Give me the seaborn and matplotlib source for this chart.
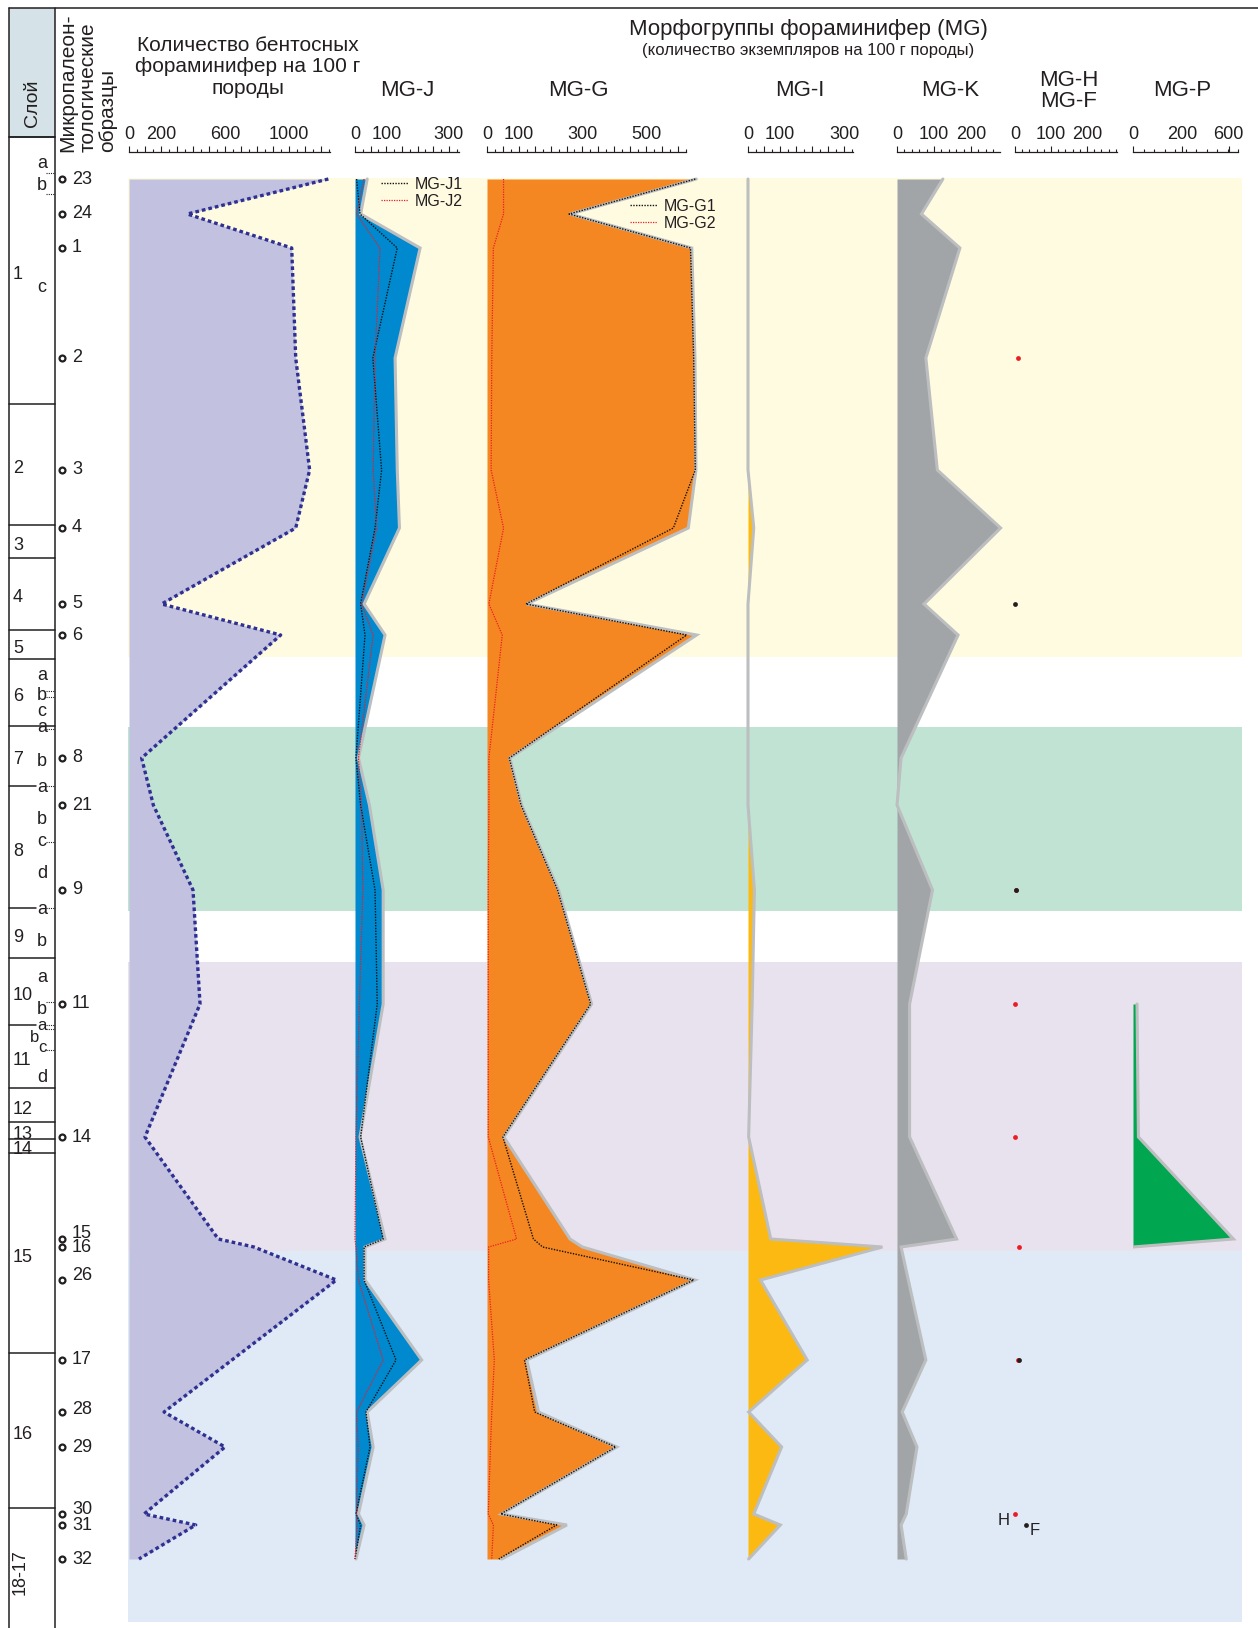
import numpy as np
import matplotlib
matplotlib.use("Agg")
import matplotlib.pyplot as plt
import seaborn as sns
from matplotlib.ticker import MultipleLocator, FixedLocator, FuncFormatter

nan = np.nan

# ---------------- data ----------------
samples = ['23', '24', '1', '2', '3', '4', '5', '6', '8', '21', '9', '11',
           '14', '15', '16', '26', '17', '28', '29', '30', '31', '32']
depth = [179, 214, 248, 358, 470, 528, 604, 635, 758, 805, 890, 1004,
         1137, 1239, 1247, 1280, 1360, 1412, 1447, 1514, 1525, 1559]

total = [1246, 365, 1017, 1042, 1129, 1042, 204, 948, 79, 152, 400, 444,
         100, 558, 781, 1296, nan, 219, 600, 94, 417, 62]

mg_j = [39, 18, 208, 128, 135, 142, 29, 96, 11, 46, 90, 90,
        16, 96, 32, 32, 213, 39, 58, 11, 29, 3]
mg_j1 = [5, 16, 135, 57, 85, 64, 18, 32, 3, 18, 64, 71,
         18, 90, 29, 29, 131, 35, 48, 3, 18, 0]
mg_j2 = [29, 5, 80, 64, 58, 69, 21, 58, 11, 21, 25, 14,
         3, 0, 3, 11, 90, 5, 10, 5, 7, 0]

mg_g = [658, 261, 644, 654, 657, 633, 125, 659, 72, 109, 225, 329,
        53, 261, 300, 654, 125, 162, 408, 46, 251, 46]
mg_g1 = [655, 258, 640, 650, 655, 586, 122, 628, 70, 107, 222, 326,
         50, 146, 175, 650, 118, 150, 405, 43, 219, 37]
mg_g2 = [52, 52, 20, 15, 13, 52, 6, 48, 6, 6, 4, 4,
         4, 93, 5, 5, 23, 15, 11, 4, 20, 15]

mg_i = [0, 0, 0, 0, 0, 18, 0, 0, 0, 0, 20, 13,
        2, 71, 420, 39, 185, 2, 105, 18, 101, 2]

mg_k = [124, 66, 170, 78, 109, 280, 73, 165, 11, 0, 96, 34,
        34, 161, 11, nan, 78, 14, 54, 25, 11, 25]

mg_h = [nan, nan, nan, 8, nan, nan, nan, nan, nan, nan, 2, 1,
        1, nan, 12, nan, 7, nan, nan, 0, nan, nan]
mg_f = [nan, nan, nan, nan, nan, nan, 1, nan, nan, nan, 4, nan,
        nan, nan, nan, nan, 11, nan, nan, nan, 30, nan]

mg_p = [nan, nan, nan, nan, nan, nan, nan, nan, nan, nan, nan, 3,
        5, 650, 0, nan, nan, nan, nan, nan, nan, nan]

layers = ['1', '2', '3', '4', '5', '6', '7', '8', '9', '10', '11', '12',
          '13', '14', '15', '16', '18-17']
layer_top = [137, 404, 525, 558, 630, 659, 726, 786, 908, 958, 1025, 1088,
             1122, 1139, 1153, 1353, 1508]
sub_letters = [('a', 163), ('b', 185), ('c', 288),
               ('a', 675), ('b', 695), ('c', 712),
               ('a', 728), ('b', 762),
               ('a', 788), ('b', 820), ('c', 842), ('d', 873),
               ('a', 910), ('b', 942),
               ('a', 978), ('b', 1009),
               ('a', 1026), ('b', 1037), ('c', 1048), ('d', 1078)]
sub_dotted = [173, 194, 691, 697, 729, 786, 842, 908, 1002, 1025, 1029, 1050]
partial_bounds = [786, 908, 1025]

band_top = [178, 727, 962, 1251]
band_bot = [657, 911, 1251, 1622]
band_col = ['#fffbe1', '#c1e3d4', '#e8e2ee', '#dfeaf6']

# ---------------- style ----------------
sns.set_theme(style="white")
plt.rcParams['font.family'] = ['Liberation Sans', 'DejaVu Sans']
INK = '#231f20'
OUT = '#bcbec0'
RED = '#ed1c24'
plt.rcParams['text.color'] = INK

W, H = 1258, 1628
fig = plt.figure(figsize=(W / 100, H / 100), dpi=100)


def px_axes(x0, x1, y0=0, y1=H):
    return fig.add_axes([x0 / W, 1 - y1 / H, (x1 - x0) / W, (y1 - y0) / H])


page = px_axes(0, W)
page.set_xlim(0, W)
page.set_ylim(H, 0)
page.axis('off')

# background bands
for t, b, c in zip(band_top, band_bot, band_col):
    page.fill_between([128, 1242], t, b, color=c, lw=0, zorder=0)

# frame
lk = dict(color=INK, lw=1.1, zorder=5)
page.plot([9, W], [8, 8], **lk)
page.plot([9, 9], [8, H], **lk)
page.plot([55, 55], [8, H], **lk)
page.fill_between([9, 55], 8, 137, color='#d5e2e8', lw=0, zorder=1)
page.plot([9, 55], [137, 137], **lk)
page.text(32, 103, "Слой", rotation=90, ha='center', va='center', fontsize=14)

# strata column
for name, top, bot in zip(layers, layer_top, layer_top[1:] + [H]):
    if top in partial_bounds:
        page.plot([9, 36], [top, top], **lk)
    else:
        page.plot([9, 55], [top, top], **lk)
    mid = (top + bot) / 2 + 4
    if name == '18-17':
        page.text(20, mid, name, rotation=90, ha='center', va='center', fontsize=13)
    else:
        page.text(13, mid, name, ha='left', va='center', fontsize=13)
for letter, y in sub_letters:
    x = 35 if (letter == 'b' and y == 1037) else 42
    fs = 12 if 1020 < y < 1060 else 13
    page.text(x, y, letter, ha='center', va='center', fontsize=fs)
for y in sub_dotted:
    page.plot([46, 55], [y, y], color=INK, lw=0.8, ls=(0, (1, 1)), zorder=5)

# sample column
page.scatter([62] * len(depth), depth, s=18, facecolors='white',
             edgecolors=INK, linewidths=1.6, zorder=6)
nudge = {'15': -6, '26': -5, '30': -4, '28': -3}
for s, d in zip(samples, depth):
    page.text(72, d + nudge.get(s, 0), s, ha='left', va='center', fontsize=13)

page.text(58, 152, "Микропалеон-\nтологические\nобразцы", rotation=90,
          rotation_mode='anchor', ha='left', va='top', multialignment='left',
          fontsize=15, linespacing=1.08)

# headers
page.text(248, 67, "Количество бентосных\nфораминифер на 100 г\nпороды",
          ha='center', va='center', fontsize=15, linespacing=1.15)
page.text(808, 30, "Морфогруппы фораминифер (MG)", ha='center', va='center', fontsize=16)
page.text(808, 51, "(количество экземпляров на 100 г породы)", ha='center',
          va='center', fontsize=12)
for txt, x in [("MG-J", 407), ("MG-G", 578), ("MG-I", 800), ("MG-K", 950),
               ("MG-H\nMG-F", 1069), ("MG-P", 1182)]:
    page.text(x, 91, txt, ha='center', va='center', fontsize=16, linespacing=1.05)

P_EXP = 0.6


def fwd(v):
    return np.power(np.clip(v, 0, None), P_EXP)


def inv(v):
    return np.power(np.clip(v, 0, None), 1 / P_EXP)


def data_axes(L, R, zero, s, powscale=False):
    ax = px_axes(L, R)
    ax.axis('off')
    if powscale:
        ax.set_xscale('function', functions=(fwd, inv))
        lim = (0, ((R - L) / s) ** (1 / P_EXP))
    else:
        lim = ((L - zero) / s, (R - zero) / s)
    return ax, lim


def finish(ax, lim):
    ax.set_xlim(*lim)
    ax.set_ylim(H, 0)
    ax.axis('off')


def scale_axes(L, R, s, major, minor, labels, powscale=False, nminor=11):
    ax = px_axes(L, R, 152, 154)
    if powscale:
        ax.set_xscale('function', functions=(fwd, inv))
        vmax = ((R - L) / s) ** (1 / P_EXP)
        ax.xaxis.set_major_locator(FixedLocator(labels))
        ax.xaxis.set_minor_locator(FixedLocator(
            np.linspace(0, vmax ** P_EXP, nminor) ** (1 / P_EXP)))
    else:
        vmax = (R - L) / s
        ax.xaxis.set_major_locator(MultipleLocator(major))
        ax.xaxis.set_minor_locator(MultipleLocator(minor))
    ax.set_xlim(0, vmax)
    ax.set_ylim(0, 1)
    ax.patch.set_visible(False)
    for k in ['left', 'right', 'bottom']:
        ax.spines[k].set_visible(False)
    ax.spines['top'].set_visible(True)
    ax.spines['top'].set_color(INK)
    ax.spines['top'].set_linewidth(0.9)
    ax.set_yticks([])
    ax.xaxis.tick_top()
    ax.tick_params(axis='x', which='major', direction='out', length=4.2, width=0.8,
                   color=INK, pad=2, labelsize=13, labelcolor=INK, top=True, bottom=False)
    ax.tick_params(axis='x', which='minor', direction='out', length=2.2, width=0.8,
                   color=INK, top=True, bottom=False)
    ax.xaxis.set_major_formatter(FuncFormatter(
        lambda v, p: f"{v:g}" if any(abs(v - l) < 1e-6 for l in labels) else ""))
    ax.grid(False)
    return ax


def clean(v, d):
    v = np.asarray(v, float)
    d = np.asarray(d, float)
    m = ~np.isnan(v)
    return v[m], d[m]


def line(ax, v, d, **kw):
    vv, dd = clean(v, d)
    sns.lineplot(x=vv, y=dd, orient='y', sort=False, estimator=None,
                 errorbar=None, ax=ax, **kw)
    return ax.lines[-1]


def area(ax, v, d, color):
    vv, dd = clean(v, d)
    ax.fill_betweenx(dd, 0, vv, color=color, lw=0, zorder=1)
    line(ax, vv, dd, color=OUT, lw=2.2, zorder=2, solid_joinstyle='miter')


leg_kw = dict(loc='upper left', bbox_transform=fig.transFigure, frameon=False,
              fontsize=11.5, handlelength=1.7, handletextpad=0.4,
              labelspacing=0.1, borderpad=0, borderaxespad=0)

# Total benthic forams
ax, lim = data_axes(120, 345, 129, 0.16)
vv, dd = clean(total, depth)
ax.fill_betweenx(dd, 0, vv, color='#c2c1df', lw=0, zorder=1)
line(ax, vv, dd, color='#2e3192', lw=2.4, linestyle=(0, (1.1, 0.9)), zorder=2)
finish(ax, lim)
scale_axes(129, 330, 0.16, 100, 50, [0, 200, 600, 1000])

# MG-J
ax, lim = data_axes(345, 480, 355, 0.313)
area(ax, mg_j, depth, '#0089cf')
l1 = line(ax, mg_j1, depth, color='#111111', lw=1.0, linestyle=(0, (1, 1)), zorder=3)
l2 = line(ax, mg_j2, depth, color=RED, lw=0.9, linestyle=(0, (1, 1)), zorder=3)
finish(ax, lim)
ax.legend([l1, l2], ['MG-J1', 'MG-J2'], bbox_to_anchor=(381 / W, 1 - 177 / H), **leg_kw)
scale_axes(355, 459, 0.313, 50, 25, [0, 100, 300])

# MG-G
ax, lim = data_axes(480, 720, 487, 0.318)
area(ax, mg_g, depth, '#f48721')
g1 = line(ax, mg_g1, depth, color='#111111', lw=1.0, linestyle=(0, (1, 1)), zorder=3)
g2 = line(ax, mg_g2, depth, color=RED, lw=0.9, linestyle=(0, (1, 1)), zorder=3)
finish(ax, lim)
ax.legend([g1, g2], ['MG-G1', 'MG-G2'], bbox_to_anchor=(630 / W, 1 - 199 / H), **leg_kw)
scale_axes(487, 686, 0.318, 50, 25, [0, 100, 300, 500])

# MG-I
ax, lim = data_axes(735, 900, 748, 0.32)
area(ax, mg_i, depth, '#fbb912')
finish(ax, lim)
scale_axes(748, 853, 0.32, 50, 25, [0, 100, 300])

# MG-K
ax, lim = data_axes(890, 1010, 897, 0.37)
area(ax, mg_k, depth, '#a2a5a8')
finish(ax, lim)
scale_axes(897, 1000, 0.37, 100, 20, [0, 100, 200])

# MG-H / MG-F
ax, lim = data_axes(1005, 1125, 1015, 0.36)
hv, hd = clean(mg_h, depth)
fv, fd = clean(mg_f, depth)
sns.scatterplot(x=hv, y=hd, ax=ax, color=RED, s=12, linewidth=0, zorder=3)
sns.scatterplot(x=fv, y=fd, ax=ax, color=INK, s=12, linewidth=0, zorder=4)
ax.annotate("H", xy=(hv[-1], hd[-1]), xytext=(-8, -4.5), textcoords='offset points',
            ha='center', va='center', fontsize=12)
ax.annotate("F", xy=(fv[-1], fd[-1]), xytext=(6.5, -3.8), textcoords='offset points',
            ha='center', va='center', fontsize=12)
finish(ax, lim)
scale_axes(1015, 1117, 0.36, 100, 20, [0, 100, 200])

# MG-P (power scale, as on the original axis)
P_S = 2.06
ax, lim = data_axes(1133, 1250, 0, P_S, powscale=True)
area(ax, mg_p, depth, '#00a650')
finish(ax, lim)
scale_axes(1133, 1238, P_S, None, None, [0, 200, 600], powscale=True)

fig.savefig("out.png", dpi=100)
